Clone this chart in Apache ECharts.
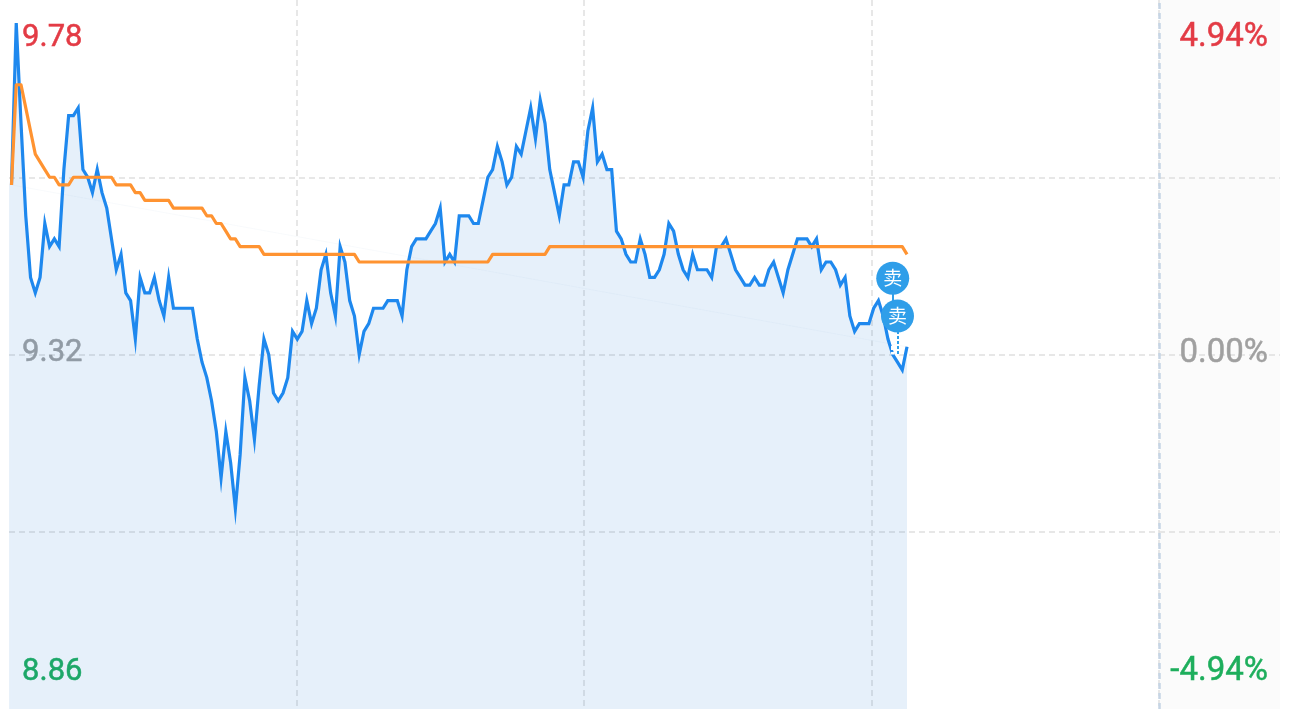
<!DOCTYPE html>
<html>
<head>
<meta charset="utf-8">
<style>
html,body{margin:0;padding:0;background:#fff;overflow:hidden}
#panel{position:absolute;left:1160px;top:0;width:120px;height:709px;background:#fbfbfb}
#chart{position:absolute;left:0;top:0;width:1290px;height:709px}
</style>
<script src="https://cdn.jsdelivr.net/npm/echarts@6/dist/echarts.min.js"></script>
</head>
<body>
<div id="panel"></div>
<div id="chart"></div>
<script>
const prices = [
9.54,9.75,9.62,9.50,9.42,9.40,9.42,9.49,9.46,9.47,
9.46,9.56,9.63,9.63,9.64,9.56,9.55,9.53,9.56,9.53,
9.51,9.47,9.43,9.45,9.40,9.39,9.34,9.42,9.40,9.40,
9.42,9.39,9.37,9.42,9.38,9.38,9.38,9.38,9.38,9.34,
9.31,9.29,9.26,9.22,9.16,9.22,9.18,9.12,9.19,9.29,
9.26,9.21,9.28,9.34,9.32,9.27,9.26,9.27,9.29,9.35,
9.34,9.35,9.39,9.36,9.38,9.43,9.45,9.40,9.37,9.46,
9.44,9.39,9.37,9.32,9.35,9.36,9.38,9.38,9.38,9.39,
9.39,9.39,9.37,9.43,9.46,9.47,9.47,9.47,9.48,9.49,
9.51,9.44,9.45,9.44,9.50,9.50,9.50,9.49,9.49,9.52,
9.55,9.56,9.59,9.57,9.54,9.55,9.59,9.58,9.61,9.64,
9.60,9.65,9.62,9.56,9.53,9.50,9.54,9.54,9.57,9.57,
9.55,9.61,9.64,9.57,9.58,9.56,9.56,9.48,9.47,9.45,
9.44,9.44,9.47,9.45,9.42,9.42,9.43,9.45,9.49,9.48,
9.45,9.43,9.42,9.45,9.43,9.43,9.43,9.42,9.46,9.46,
9.47,9.45,9.43,9.42,9.41,9.41,9.42,9.41,9.41,9.43,
9.44,9.42,9.40,9.43,9.45,9.47,9.47,9.47,9.46,9.47,
9.43,9.44,9.44,9.43,9.41,9.42,9.37,9.35,9.36,9.36,
9.36,9.38,9.39,9.37,9.34,9.32,9.31,9.30,9.33
];
const averages = [
9.54,9.67,9.67,9.64,9.61,9.58,9.57,9.56,9.55,9.55,
9.54,9.54,9.54,9.55,9.55,9.55,9.55,9.55,9.55,9.55,
9.55,9.55,9.54,9.54,9.54,9.54,9.53,9.53,9.52,9.52,
9.52,9.52,9.52,9.52,9.51,9.51,9.51,9.51,9.51,9.51,
9.51,9.50,9.50,9.49,9.49,9.48,9.47,9.47,9.46,9.46,
9.46,9.46,9.46,9.45,9.45,9.45,9.45,9.45,9.45,9.45,
9.45,9.45,9.45,9.45,9.45,9.45,9.45,9.45,9.45,9.45,
9.45,9.45,9.45,9.44,9.44,9.44,9.44,9.44,9.44,9.44,
9.44,9.44,9.44,9.44,9.44,9.44,9.44,9.44,9.44,9.44,
9.44,9.44,9.44,9.44,9.44,9.44,9.44,9.44,9.44,9.44,
9.44,9.45,9.45,9.45,9.45,9.45,9.45,9.45,9.45,9.45,
9.45,9.45,9.45,9.46,9.46,9.46,9.46,9.46,9.46,9.46,
9.46,9.46,9.46,9.46,9.46,9.46,9.46,9.46,9.46,9.46,
9.46,9.46,9.46,9.46,9.46,9.46,9.46,9.46,9.46,9.46,
9.46,9.46,9.46,9.46,9.46,9.46,9.46,9.46,9.46,9.46,
9.46,9.46,9.46,9.46,9.46,9.46,9.46,9.46,9.46,9.46,
9.46,9.46,9.46,9.46,9.46,9.46,9.46,9.46,9.46,9.46,
9.46,9.46,9.46,9.46,9.46,9.46,9.46,9.46,9.46,9.46,
9.46,9.46,9.46,9.46,9.46,9.46,9.46,9.46,9.45
];
// trading minutes of the session: 09:30-11:30 and 13:01-15:00
const sessionMinutes = [];
for (let m = 570; m <= 690; m++) sessionMinutes.push(m);
for (let m = 781; m <= 900; m++) sessionMinutes.push(m);
const categories = sessionMinutes.map(m =>
  String(Math.floor(m / 60)).padStart(2, '0') + ':' + String(m % 60).padStart(2, '0'));

const priceTicks = [8.86, 9.32, 9.78];
const priceLabels = ['8.86', '9.32', '9.78'];
const percentTicks = [-4.94, 0, 4.94];
const percentLabels = ['-4.94%', '0.00%', '4.94%'];
const hourTicks = [60, 120, 180, 240];
const sellIndexes = [185, 186];
const sellLevels = [9.419, 9.37];
const stemEnds = [9.32, 9.32];
const sellText = '卖';

const RED = '#e33b45', GRAY = '#a0a0a0', GREEN = '#1dae5c';
const FONT = 'Roboto, sans-serif';
const mkRich = (size) => {
  const base = {fontFamily: FONT, fontSize: size, fontWeight: 400, textBorderWidth: 0.5};
  return {
    top: {...base, color: RED, textBorderColor: RED, padding: [76, 0, 0, 0]},
    mid: {...base, color: GRAY, textBorderColor: GRAY, padding: [0, 0, 2, 0]},
    bot: {...base, color: GREEN, textBorderColor: GREEN, padding: [0, 0, 74, 0]}
  };
};
const styleFor = ['bot', 'mid', 'top'];
const tickLabel = (ticks, labels) => v => {
  const k = ticks.findIndex(t => Math.abs(t - v) < 1e-6);
  return k < 0 ? '' : '{' + styleFor[k] + '|' + labels[k] + '}';
};
const DASH = [6, 4];
const last = prices.length - 1;
const BADGE = '#2f9ee9';
const FILL = 'rgba(25,115,205,0.11)';

const chart = echarts.init(document.getElementById('chart'), null, {renderer: 'canvas'});
chart.setOption({
  animation: false,
  backgroundColor: 'transparent',
  grid: [
    {left: 9.1, top: 0, width: 1148, height: 709, containLabel: false},
    {left: 9, top: 0, width: 1271, height: 709, containLabel: false}
  ],
  xAxis: [
    {type: 'category', gridIndex: 0, data: categories, boundaryGap: true,
     axisLine: {show: false}, axisTick: {show: false}, axisLabel: {show: false}, splitLine: {show: false}},
    {type: 'value', gridIndex: 1, min: 0, max: 265.2, interval: 60,
     axisLine: {show: false}, axisTick: {show: false}, axisLabel: {show: false},
     splitLine: {show: true, showMinLine: false, showMaxLine: false,
       lineStyle: {color: '#dfdfdf', width: 1.5, type: DASH}}}
  ],
  yAxis: [
    {type: 'value', gridIndex: 0, min: 8.86, max: 9.78, position: 'left',
     axisLine: {show: false}, axisTick: {show: false}, splitLine: {show: false},
     axisLabel: {show: true, inside: true, margin: 13, align: 'left', hideOverlap: false,
       customValues: priceTicks, showMinLabel: true, showMaxLabel: true,
       formatter: tickLabel(priceTicks, priceLabels), rich: mkRich(31)}},
    {type: 'value', gridIndex: 1, min: -4.94, max: 4.94, interval: 2.47, position: 'right',
     axisLine: {show: false}, axisTick: {show: false},
     splitLine: {show: true, showMinLine: false, showMaxLine: false,
       lineStyle: {color: '#dfdfdf', width: 1.5, type: DASH}},
     axisLabel: {show: true, inside: true, margin: 12, align: 'right', hideOverlap: false,
       customValues: percentTicks, showMinLabel: true, showMaxLabel: true,
       formatter: tickLabel(percentTicks, percentLabels), rich: mkRich(33)}}
  ],
  series: [
    {type: 'line', name: 'divider', xAxisIndex: 1, yAxisIndex: 1, data: [], silent: true,
     markLine: {silent: true, symbol: 'none', label: {show: false},
       lineStyle: {color: '#c6d5e5', width: 2.5, type: DASH},
       data: [{xAxis: hourTicks[3]}]}},
    {type: 'bar', name: 'openLeft', xAxisIndex: 0, yAxisIndex: 0, barWidth: '50%', barGap: '0%', silent: true,
     data: [prices[0]], itemStyle: {color: FILL}},
    {type: 'bar', name: 'openRight', xAxisIndex: 0, yAxisIndex: 0, barWidth: '50%', barGap: '0%', silent: true,
     data: [], itemStyle: {color: 'transparent'}},
    {type: 'line', name: 'price', xAxisIndex: 0, yAxisIndex: 0, data: prices, showSymbol: false, smooth: false,
     lineStyle: {color: '#1e88ee', width: 3.2, join: 'miter', miterLimit: 20},
     areaStyle: {color: FILL, opacity: 1, origin: 'start'},
     z: 3},
    {type: 'line', name: 'seam', xAxisIndex: 0, yAxisIndex: 0, connectNulls: true, showSymbol: false, silent: true,
     data: prices.map((v, i) => (i === 0 || i === last) ? v : null),
     lineStyle: {color: '#f3f6f9', width: 1, opacity: 0.55}, z: 2},
    {type: 'line', name: 'average', xAxisIndex: 0, yAxisIndex: 0, data: averages, showSymbol: false, smooth: false,
     lineStyle: {color: '#ff9331', width: 3.2, join: 'round'},
     z: 4},
    {type: 'line', name: 'sellStems', xAxisIndex: 0, yAxisIndex: 0, data: [], silent: true, z: 6,
     markLine: {silent: true, symbol: 'none', label: {show: false}, z: 6,
       data: [
         [{coord: [sellIndexes[0], sellLevels[0]], lineStyle: {color: BADGE, width: 2, type: 'solid'}},
          {coord: [sellIndexes[0], sellLevels[1]]}],
         [{coord: [sellIndexes[0], sellLevels[1]], lineStyle: {color: '#ffffff', width: 3, type: [4, 2]}},
          {coord: [sellIndexes[0], stemEnds[0]]}],
         [{coord: [sellIndexes[1], sellLevels[1]], lineStyle: {color: '#ffffff', width: 5, type: 'solid'}},
          {coord: [sellIndexes[1], stemEnds[1]]}],
         [{coord: [sellIndexes[1], sellLevels[1]], lineStyle: {color: BADGE, width: 2, type: [3, 2]}},
          {coord: [sellIndexes[1], stemEnds[1]]}]
       ]},
     markPoint: {silent: true, symbol: 'circle', symbolSize: 33, z: 10,
       itemStyle: {color: BADGE},
       label: {show: true, position: 'inside', formatter: sellText, color: '#fff', fontSize: 19,
         fontFamily: '"Noto Sans CJK SC", sans-serif'},
       data: sellIndexes.map((ix, k) => ({coord: [ix, sellLevels[k]]}))}}
  ]
});
</script>
</body>
</html>
